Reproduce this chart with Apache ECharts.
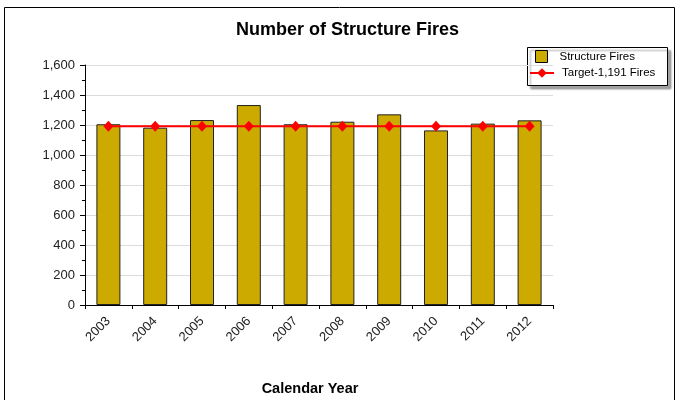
<!DOCTYPE html>
<html>
<head>
<meta charset="utf-8">
<script src="https://cdn.jsdelivr.net/npm/echarts@6/dist/echarts.min.js"></script>
<style>
  html, body { margin: 0; padding: 0; background: #fff; }
  #chart { width: 678px; height: 400px; }
</style>
</head>
<body>
<div id="chart"></div>
<script>
const years = ["2003", "2004", "2005", "2006", "2007", "2008", "2009", "2010", "2011", "2012"]
const fires = [1205, 1182, 1233, 1333, 1205, 1222, 1271, 1164, 1209, 1231]
const target = [1191, 1191, 1191, 1191, 1191, 1191, 1191, 1191, 1191, 1191]

const myChart = echarts.init(document.getElementById("chart"))

const font = "Arial, 'Liberation Sans', sans-serif"

const option = {
  backgroundColor: "#fff",
  animation: false,
  textStyle: { fontFamily: font },
  title: {
    text: "Number of Structure Fires",
    left: 231,
    top: 16,
    textStyle: { fontSize: 18, fontWeight: "bold", color: "#000", fontFamily: font },
  },
  graphic: [
    // outer frame
    {
      type: "rect",
      shape: { x: 4.5, y: 7.5, width: 670, height: 420 },
      style: { fill: "none", stroke: "#000", lineWidth: 1 },
      silent: true,
    },
    // legend box with shadow
    {
      type: "rect",
      shape: { x: 527.5, y: 47.5, width: 140, height: 38 },
      style: {
        fill: "#fff",
        stroke: "#000",
        lineWidth: 1,
        shadowColor: "rgba(0,0,0,0.35)",
        shadowOffsetX: 3,
        shadowOffsetY: 3,
        shadowBlur: 2,
      },
      z: -1,
      silent: true,
    },
  ],
  legend: [
    {
      data: ["Structure Fires"],
      left: 535,
      top: 50,
      padding: 0,
      itemWidth: 12,
      itemHeight: 12,
      icon: "rect",
      itemStyle: { borderColor: "#000", borderWidth: 1 },
      textStyle: { fontSize: 11.5, color: "#000", padding: [0, 0, 0, 7], fontFamily: font },
    },
    {
      data: ["Target-1,191 Fires"],
      left: 529,
      top: 67,
      padding: 0,
      itemWidth: 24,
      itemHeight: 12,
      textStyle: { fontSize: 11.5, color: "#000", padding: [0, 0, 0, 3], fontFamily: font },
    },
  ],
  grid: { left: 85, right: 125, top: 65, bottom: 95, containLabel: false, outerBoundsMode: "none" },
  xAxis: {
    type: "category",
    data: years,
    name: "Calendar Year",
    nameLocation: "middle",
    nameGap: 76,
    nameTextStyle: { fontSize: 14.5, fontWeight: "bold", color: "#000", fontFamily: font, padding: [0, 18, 0, 0] },
    axisLine: { lineStyle: { color: "#000", width: 1 } },
    axisTick: { show: true, length: 4, lineStyle: { color: "#000" } },
    axisLabel: { rotate: 45, interval: 0, fontSize: 13, color: "#222", margin: 14, fontFamily: font },
    splitLine: { show: false },
  },
  yAxis: {
    type: "value",
    min: 0,
    max: 1600,
    interval: 200,
    axisLine: { show: true, lineStyle: { color: "#000", width: 1 } },
    axisTick: { show: true, length: 5, lineStyle: { color: "#000" } },
    minorTick: { show: true, splitNumber: 2, length: 3, lineStyle: { color: "#000" } },
    axisLabel: {
      fontSize: 13,
      color: "#222",
      margin: 10,
      fontFamily: font,
      formatter: function (v) {
        return v.toLocaleString("en-US")
      },
    },
    splitLine: { show: true, lineStyle: { color: "#dcdcdc", width: 1 } },
  },
  series: [
    {
      name: "Structure Fires",
      type: "bar",
      data: fires,
      barWidth: 24,
      itemStyle: { color: "#CCAA00", borderColor: "#222", borderWidth: 1 },
    },
    {
      name: "Target-1,191 Fires",
      type: "line",
      data: target,
      symbol: "diamond",
      symbolSize: [10, 11],
      lineStyle: { color: "#ff0000", width: 2 },
      itemStyle: { color: "#ff0000" },
      z: 5,
    },
  ],
}

option && myChart.setOption(option)
</script>
</body>
</html>
